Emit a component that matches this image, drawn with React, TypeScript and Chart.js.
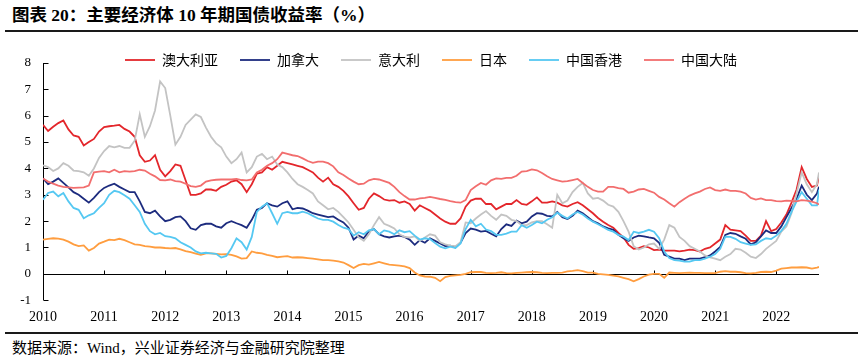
import React, { useEffect, useRef } from "react";
import { Chart, registerables } from "chart.js";

Chart.register(...registerables);

// ---------- data ----------
const SERIES_NAMES = ["澳大利亚", "加拿大", "意大利", "日本", "中国香港", "中国大陆"];
const COLORS = ["#E3262B", "#1C2B7E", "#C3C3C3", "#FF9D3F", "#55C8F2", "#F26E6E"];
const START_YEAR = 2010;
const END_X = 2022.7;
const YEAR_TICKS = [2010, 2011, 2012, 2013, 2014, 2015, 2016, 2017, 2018, 2019, 2020, 2021, 2022];
const Y_TICKS = [-1, 0, 1, 2, 3, 4, 5, 6, 7, 8];

// monthly readings (first of month), Jan 2010 .. Sep 2022, plus last observation
const AUS = [
  5.65, 5.42, 5.58, 5.72, 5.82, 5.48, 5.25, 5.2, 4.87, 5.0, 5.12, 5.4,
  5.57, 5.6, 5.62, 5.65, 5.5, 5.4, 5.2, 4.5, 4.25, 4.3, 4.5, 3.95,
  3.7, 3.9, 4.15, 4.1, 3.55, 3.0, 3.0, 3.05, 3.2, 3.2, 3.15, 3.3,
  3.38, 3.5, 3.55, 3.4, 3.1, 3.4, 3.8, 3.85, 4.05, 3.95, 4.1, 4.25,
  4.2, 4.15, 4.1, 4.05, 3.95, 3.85, 3.65, 3.5, 3.65, 3.4, 3.3, 3.15,
  2.94, 2.68, 2.43, 2.5, 2.85, 3.05, 2.95, 2.82, 2.78, 2.8, 2.7, 2.75,
  2.65, 2.4, 2.6, 2.5, 2.4, 2.25, 2.1, 1.98, 1.9, 1.9, 2.1, 2.55,
  2.78, 2.85, 2.85, 2.65, 2.65, 2.45, 2.55, 2.65, 2.65, 2.8, 2.65, 2.62,
  2.75, 2.9, 2.7, 2.7, 2.75, 2.7, 2.6, 2.55, 2.65, 2.72, 2.6, 2.45,
  2.3, 2.12, 1.98, 1.85, 1.75, 1.55, 1.38, 1.1, 0.95, 0.98, 1.05, 1.0,
  0.9, 0.92, 0.88, 0.88, 0.88, 0.85, 0.88, 0.92, 0.9, 0.85, 0.95, 1.0,
  1.15, 1.3, 1.85, 1.68, 1.65, 1.62, 1.45, 1.25, 1.25, 1.45, 2.0, 1.62,
  1.7, 1.95, 2.25, 2.7, 3.2, 4.05, 3.6, 3.3, 3.35, 3.7,
];
const CAN = [
  3.62, 3.4, 3.5, 3.62, 3.45, 3.28, 3.1, 3.0, 2.85, 2.7, 2.88, 3.1,
  3.26, 3.35, 3.42, 3.3, 3.2, 3.1, 3.1, 2.75, 2.35, 2.3, 2.4, 2.18,
  2.0, 2.05, 2.15, 2.18, 2.0, 1.73, 1.67, 1.85, 1.9, 1.9, 1.8, 1.75,
  1.92, 2.0, 1.92, 1.85, 1.75, 2.05, 2.43, 2.5, 2.68, 2.6, 2.55, 2.68,
  2.75, 2.45, 2.5, 2.48, 2.4, 2.3, 2.25, 2.2, 2.15, 2.18, 2.05, 1.95,
  1.75, 1.3, 1.45, 1.35, 1.62, 1.7, 1.5, 1.42, 1.38, 1.42, 1.45, 1.4,
  1.3, 1.1, 1.28, 1.18, 1.35, 1.25, 1.15, 1.05, 1.07, 1.0, 1.18, 1.55,
  1.72, 1.68, 1.6, 1.63, 1.52, 1.42, 1.7, 1.88, 1.82, 2.02, 1.92, 1.98,
  2.18, 2.3, 2.28, 2.2, 2.18, 2.35, 2.15, 2.08, 2.2, 2.4, 2.3, 2.15,
  2.0, 1.92, 1.8, 1.73, 1.67, 1.48, 1.35, 1.25, 1.38, 1.45, 1.42, 1.38,
  1.35, 1.18, 0.72, 0.65, 0.58, 0.58, 0.52, 0.58, 0.58, 0.58, 0.63, 0.7,
  0.85, 1.02, 1.48, 1.55, 1.52, 1.42, 1.33, 1.12, 1.2, 1.42, 1.65, 1.55,
  1.55, 1.8, 2.15, 2.5, 2.85, 3.35, 3.0, 2.8, 3.05, 3.3,
];
const ITA = [
  4.12, 4.05, 3.9, 4.0, 4.2, 4.1, 3.92, 3.9, 3.85, 3.72, 4.0, 4.4,
  4.66, 4.85, 4.8, 4.85, 4.78, 4.78, 5.05, 6.05, 5.2, 5.6, 6.2, 7.3,
  7.05, 6.0, 4.9, 5.2, 5.65, 5.85, 6.05, 5.95, 5.55, 5.2, 4.95, 4.8,
  4.45, 4.2, 4.35, 4.6, 3.85, 4.05, 4.45, 4.55, 4.35, 4.45, 4.15, 4.05,
  3.85, 3.6, 3.4, 3.3, 3.18, 3.05, 2.75, 2.6, 2.45, 2.5, 2.35, 2.15,
  1.95, 1.67, 1.38, 1.25, 1.5, 1.85, 2.15, 1.9, 1.82, 1.72, 1.5, 1.4,
  1.38, 1.42, 1.25, 1.38, 1.5, 1.45, 1.2, 1.12, 1.07, 1.05, 1.2, 1.95,
  1.92, 2.1, 2.25, 2.38, 2.2, 2.05, 2.25, 2.2, 2.05, 2.0, 1.85, 1.85,
  1.95, 2.0, 2.0, 1.88, 1.75, 3.0, 2.68, 2.78, 3.1, 3.3, 3.45, 3.05,
  2.85, 2.88, 2.78, 2.62, 2.55, 2.35, 2.0, 1.6, 1.05, 0.92, 1.0, 1.12,
  1.15, 0.95, 1.3, 1.85, 1.75, 1.4, 1.25, 1.05, 0.95, 0.85, 0.7, 0.62,
  0.58, 0.52, 0.65, 0.75, 0.95, 0.92, 0.8, 0.65, 0.6, 0.75, 0.95, 1.1,
  1.25, 1.6, 1.8, 2.3, 3.05, 3.85, 3.4, 3.1, 3.4, 3.85,
];
const JPN = [
  1.3, 1.33, 1.35, 1.34, 1.3, 1.22, 1.12, 1.05, 1.08, 0.88, 0.98, 1.15,
  1.22, 1.3, 1.28, 1.33, 1.28, 1.2, 1.12, 1.1, 1.05, 1.03, 1.0, 1.0,
  0.98, 0.97, 0.98, 0.93, 0.86, 0.82, 0.77, 0.72, 0.78, 0.78, 0.76, 0.74,
  0.75, 0.72, 0.66, 0.58, 0.6, 0.85, 0.8, 0.78, 0.72, 0.68, 0.63, 0.65,
  0.67, 0.62, 0.63, 0.62, 0.6, 0.58, 0.55, 0.52, 0.52, 0.5, 0.47, 0.43,
  0.33, 0.22, 0.33, 0.38, 0.35, 0.4, 0.45, 0.4, 0.35, 0.33, 0.31, 0.28,
  0.22, 0.05, -0.06, -0.1, -0.11, -0.15, -0.28, -0.12, -0.08, -0.06, -0.04, 0.0,
  0.06, 0.07, 0.07, 0.04, 0.03, 0.04, 0.06, 0.03, 0.02, 0.04, 0.05, 0.06,
  0.07, 0.06, 0.04, 0.03, 0.04, 0.04, 0.05, 0.09, 0.11, 0.14, 0.1, 0.05,
  0.05, 0.0, -0.02, -0.04, -0.07, -0.1, -0.15, -0.2, -0.28, -0.2, -0.1, -0.03,
  0.0, 0.0, -0.15, 0.05, 0.04, 0.03, 0.04, 0.05, 0.04, 0.04, 0.03, 0.03,
  0.03, 0.08, 0.1, 0.08, 0.08, 0.06, 0.03, 0.02, 0.04, 0.07, 0.08, 0.07,
  0.12, 0.2, 0.22, 0.24, 0.24, 0.25, 0.24, 0.2, 0.24, 0.26,
];
const HKG = [
  2.81, 3.07, 3.12, 2.94, 3.07, 2.75, 2.5, 2.43, 2.11, 2.22, 2.3, 2.5,
  2.68, 3.0, 3.15, 3.1, 2.98, 2.85, 2.6, 2.35, 1.9, 1.62, 1.5, 1.55,
  1.43, 1.4, 1.35, 1.2, 1.1, 1.0, 0.85, 0.78, 0.8, 0.78, 0.76, 0.62,
  0.68, 0.97, 1.35, 1.2, 0.92, 1.4, 2.35, 2.55, 2.68, 2.3, 1.9, 2.3,
  2.35, 2.3, 2.3, 2.36, 2.3, 2.2, 2.1, 2.05, 2.05, 1.98, 1.85, 1.75,
  1.7, 1.45, 1.58, 1.5, 1.65, 1.7, 1.5, 1.65, 1.6, 1.5, 1.65, 1.58,
  1.62, 1.45, 1.3, 1.35, 1.32, 1.17, 1.03, 0.97, 1.03, 0.98, 1.15, 1.7,
  2.05, 1.8, 1.9, 1.68, 1.62, 1.48, 1.48, 1.53, 1.6, 1.6, 1.85, 1.75,
  1.85, 1.98, 1.92, 2.05, 2.15, 2.32, 2.2, 2.1, 2.25, 2.35, 2.25, 2.1,
  1.98, 1.88, 1.78, 1.67, 1.6, 1.48, 1.41, 1.28, 1.6, 1.55, 1.6, 1.67,
  1.6, 1.35, 0.85, 0.6, 0.52, 0.5, 0.46, 0.46, 0.52, 0.52, 0.58, 0.65,
  0.75, 0.95, 1.41, 1.4, 1.33, 1.2, 1.15, 1.1, 1.12, 1.25, 1.35, 1.32,
  1.45, 1.63, 1.9, 2.35, 2.75, 3.1, 2.85, 2.6, 2.6, 3.2,
];
const CHN = [
  3.62, 3.5, 3.42, 3.35, 3.3, 3.28, 3.26, 3.27, 3.28, 3.35, 3.85, 3.88,
  3.9, 3.85, 3.95, 3.85, 3.9, 3.88, 3.9, 3.95, 3.92, 3.8, 3.7, 3.56,
  3.55, 3.58, 3.52, 3.5, 3.42, 3.33, 3.3, 3.35, 3.5, 3.55, 3.57, 3.58,
  3.58, 3.58, 3.6, 3.56, 3.55, 3.58, 3.85, 3.95, 4.1, 4.2, 4.35, 4.6,
  4.55, 4.5, 4.47, 4.38, 4.28, 4.21, 4.26, 4.26, 4.2, 4.08, 3.85, 3.75,
  3.62, 3.5, 3.4, 3.42, 3.55, 3.6, 3.58, 3.52, 3.45, 3.3, 3.1, 2.95,
  2.82, 2.82, 2.86, 2.88, 2.92, 2.88, 2.84, 2.81, 2.76, 2.72, 2.7, 2.8,
  3.18, 3.32, 3.45, 3.38, 3.55, 3.62, 3.6, 3.64, 3.64, 3.72, 3.88, 3.9,
  3.96, 3.93, 3.83, 3.7, 3.6, 3.55, 3.5, 3.52, 3.56, 3.6, 3.45, 3.3,
  3.18, 3.12, 3.12, 3.3, 3.3, 3.25, 3.22, 3.08, 3.12, 3.2, 3.22, 3.15,
  3.08, 2.92, 2.82, 2.68, 2.55, 2.72, 2.85, 2.97, 3.05, 3.12, 3.22, 3.28,
  3.18, 3.15, 3.2, 3.15, 3.15, 3.12, 3.05, 2.88, 2.82, 2.86, 2.8, 2.8,
  2.76, 2.75, 2.78, 2.77, 2.75, 2.8, 2.78, 2.74, 2.68, 2.63,
];

const SERIES_VALUES = [AUS, CAN, ITA, JPN, HKG, CHN];
const DATES = AUS.map((_, i) => (i < AUS.length - 1 ? START_YEAR + i / 12 : END_X));

// ---------- layout constants ----------
const CANVAS_W = 863;
const CANVAS_H = 304;
const LEGEND_H = 32;

const SERIF = '"Liberation Serif", "Times New Roman", serif';
const SERIF_CJK = '"Liberation Serif", "Noto Sans CJK SC", serif';
const CJK = '"Noto Sans CJK SC", "Noto Sans", sans-serif';

const legendFitPlugin = {
  id: "legendFit",
  beforeLayout(chart: any) {
    const lg = chart.legend;
    if (lg && !lg.__patched) {
      const origFit = lg.fit;
      lg.fit = function () {
        origFit.call(this);
        this.height = LEGEND_H;
      };
      // draw without clipping to the (shortened) legend box
      lg.draw = function () {
        this._draw();
      };
      lg.__patched = true;
    }
  },
};

const axesPlugin = {
  id: "customAxes",
  beforeDatasetsDraw(chart: any) {
    const { ctx, chartArea, scales } = chart;
    const xs = scales.x;
    const ys = scales.y;
    ctx.save();
    ctx.strokeStyle = "#000";
    ctx.lineWidth = 1;
    const left = Math.round(chartArea.left) + 0.5;
    const yTop = ys.getPixelForValue(Y_TICKS[Y_TICKS.length - 1]);
    const yBot = ys.getPixelForValue(Y_TICKS[0]);
    const y0 = Math.round(ys.getPixelForValue(0)) + 0.5;
    ctx.beginPath();
    ctx.moveTo(left, yTop);
    ctx.lineTo(left, yBot);
    Y_TICKS.forEach((v) => {
      const py = Math.round(ys.getPixelForValue(v)) + 0.5;
      ctx.moveTo(left, py);
      ctx.lineTo(left + 5, py);
    });
    ctx.moveTo(left, y0);
    ctx.lineTo(xs.getPixelForValue(END_X), y0);
    YEAR_TICKS.forEach((yr) => {
      const px = Math.round(xs.getPixelForValue(yr)) + 0.5;
      ctx.moveTo(px, y0);
      ctx.lineTo(px, y0 - 4);
    });
    ctx.stroke();
    ctx.restore();
  },
};

function ChartCanvas() {
  const ref = useRef<HTMLCanvasElement>(null);
  useEffect(() => {
    const canvas = ref.current;
    if (!canvas) return;
    const datasets = SERIES_NAMES.map((name, i) => ({
      label: name,
      data: DATES.map((d, j) => ({ x: d, y: SERIES_VALUES[i][j] })),
      borderColor: COLORS[i],
      backgroundColor: COLORS[i],
      borderWidth: 1.8,
      pointRadius: 0,
      pointHoverRadius: 0,
      tension: 0,
      fill: false,
      order: SERIES_NAMES.length - i,
    }));
    const chart = new Chart(canvas, {
      type: "line",
      data: { datasets },
      options: {
        responsive: false,
        animation: false,
        devicePixelRatio: 1,
        layout: { padding: { left: 0, right: 44, top: 0, bottom: 0 } },
        plugins: {
          legend: {
            display: true,
            position: "top",
            fullSize: false,
            align: "center",
            labels: {
              usePointStyle: true,
              pointStyle: "line",
              pointStyleWidth: 30,
              boxHeight: 14,
              padding: 22,
              color: "#000",
              font: { family: CJK, size: 14 },
              sort: (a: any, b: any) => a.datasetIndex - b.datasetIndex,
            },
          },
          tooltip: { enabled: false },
        },
        scales: {
          x: {
            type: "linear",
            min: START_YEAR,
            max: END_X,
            grid: { display: false, drawTicks: false },
            border: { display: false },
            afterBuildTicks: (s: any) => {
              s.ticks = YEAR_TICKS.map((v) => ({ value: v }));
            },
            ticks: {
              autoSkip: false,
              maxRotation: 0,
              padding: 9,
              color: "#000",
              font: { family: SERIF, size: 14 },
              callback: (v: any) => String(v),
            },
          },
          y: {
            min: -1,
            max: 8,
            grid: { display: false, drawTicks: false },
            border: { display: false },
            afterFit: (s: any) => {
              s.width = 43;
            },
            ticks: {
              stepSize: 1,
              padding: 12,
              color: "#000",
              font: { family: SERIF, size: 13 },
              callback: (v: any) => String(v),
            },
          },
        },
      },
      plugins: [legendFitPlugin, axesPlugin],
    } as any);
    return () => chart.destroy();
  }, []);
  return (
    <canvas
      ref={ref}
      width={CANVAS_W}
      height={CANVAS_H}
      style={{ position: "absolute", left: 0, top: 31, width: CANVAS_W, height: CANVAS_H }}
    />
  );
}

export default function App() {
  return (
    <div
      style={{
        position: "fixed",
        left: 0,
        top: 0,
        width: 863,
        height: 360,
        background: "#fff",
        overflow: "hidden",
      }}
    >
      <div
        style={{
          position: "absolute",
          left: 12,
          top: 4,
          fontFamily: SERIF_CJK,
          fontWeight: 700,
          fontSize: 17.5,
          lineHeight: "22px",
          color: "#000",
          whiteSpace: "nowrap",
        }}
      >
        图表 20：主要经济体 10 年期国债收益率（%）
      </div>
      <div style={{ position: "absolute", left: 5, top: 30, width: 853, height: 0, borderTop: "2px solid #1a1a1a" }} />
      <ChartCanvas />
      <div style={{ position: "absolute", left: 5, top: 332, width: 853, height: 0, borderTop: "2px solid #1a1a1a" }} />
      <div
        style={{
          position: "absolute",
          left: 12,
          top: 339,
          fontFamily: SERIF_CJK,
          fontSize: 15,
          lineHeight: "19px",
          color: "#000",
          whiteSpace: "nowrap",
        }}
      >
        数据来源：Wind，兴业证券经济与金融研究院整理
      </div>
    </div>
  );
}
